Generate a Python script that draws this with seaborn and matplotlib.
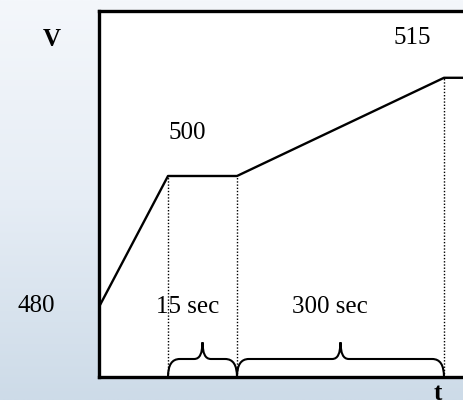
import numpy as np
import pandas as pd
import matplotlib.pyplot as plt
from matplotlib.path import Path
from matplotlib.patches import PathPatch
from matplotlib.colors import LinearSegmentedColormap
import seaborn as sns

# schematic voltage profile (x = phase steps, not to scale)
steps = [0, 1, 2, 5, 6]
volts = [480, 500, 500, 515, 515]
level_labels = ['480', '500', '515']
durations = ['15 sec', '300 sec']
duration_spans = [(1, 2), (2, 5)]
marks = [1, 2, 5]
mark_levels = [500, 500, 515]

sns.set_style('white')
plt.rcParams['font.family'] = ['Liberation Serif', 'DejaVu Serif']
plt.rcParams['text.color'] = 'black'

fig = plt.figure(figsize=(4.63, 4.0), dpi=100)

# background gradient
bg = fig.add_axes([0, 0, 1, 1], zorder=-10)
grad = np.linspace(0, 1, 256).reshape(-1, 1)
cmap = LinearSegmentedColormap.from_list('bg', ['#f4f7fb', '#e6edf5', '#cddbe8'])
bg.imshow(grad, aspect='auto', cmap=cmap, extent=[0, 1, 0, 1])
bg.axis('off')

ax = fig.add_axes([99 / 463, 23 / 400, 381 / 463, 366 / 400])
df = pd.DataFrame({'t': steps, 'V': volts})
sns.lineplot(data=df, x='t', y='V', ax=ax, color='black', lw=1.7, sort=False)
ax.set_xlim(0, 381 / 69)
ax.set_ylim(469.3, 525.2)
ax.set_xticks([])
ax.set_yticks([])
ax.set_xlabel('')
ax.set_ylabel('')
for s in ax.spines.values():
    s.set_linewidth(2.4)
    s.set_color('black')

ax.vlines(marks, 469.3, mark_levels, colors='black', linestyles=(0, (1, 1.3)), lw=1.0)

ybase = 469.3
h1, h2 = 2.75, 5.3
for (x0, x1) in duration_spans:
    xm = (x0 + x1) / 2
    r_end, r_mid = 0.17, 0.12
    verts = [(x0, ybase), (x0, ybase + h1), (x0 + r_end, ybase + h1),
             (xm - r_mid, ybase + h1), (xm, ybase + h1), (xm, ybase + h2),
             (xm, ybase + h1), (xm + r_mid, ybase + h1),
             (x1 - r_end, ybase + h1), (x1, ybase + h1), (x1, ybase)]
    codes = [Path.MOVETO, Path.CURVE3, Path.CURVE3,
             Path.LINETO, Path.CURVE3, Path.CURVE3,
             Path.CURVE3, Path.CURVE3,
             Path.LINETO, Path.CURVE3, Path.CURVE3]
    ax.add_patch(PathPatch(Path(verts, codes), fill=False, lw=1.5, color='black', clip_on=False))

fs = 18
ax.text(1.29, 480, durations[0], fontsize=fs, ha='center', va='center')
ax.text(3.35, 480, durations[1], fontsize=fs, ha='center', va='center')
ax.text(1.275, 506.6, level_labels[1], fontsize=fs, ha='center', va='center')
ax.text(4.54, 521.0, level_labels[2], fontsize=fs, ha='center', va='center')

fig.text(36 / 463, 1 - 306 / 400, level_labels[0], fontsize=fs, ha='center', va='center')
fig.text(52 / 463, 1 - 39 / 400, 'V', fontsize=fs, fontweight='bold', ha='center', va='center')
fig.text(438 / 463, 1 - 394 / 400, 't', fontsize=fs, fontweight='bold', ha='center', va='center')

fig.savefig('out.png', dpi=100)
